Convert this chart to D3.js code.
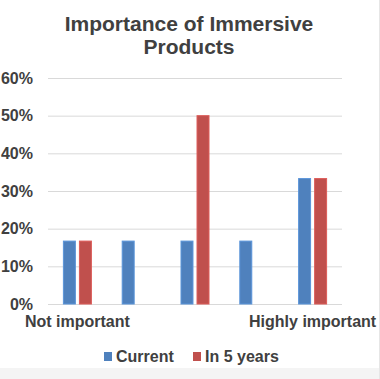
<!DOCTYPE html>
<html>
<head>
<meta charset="utf-8">
<title>Importance of Immersive Products</title>
<style>
	body { margin: 0; background: #fff; }
	svg { display: block; font-family: "Liberation Sans", Arial, sans-serif; }
</style>
</head>
<body>
<div class="chart"></div>
<script src="https://cdn.jsdelivr.net/npm/d3@7"></script>
<script>
	// data
	let categories = ["1", "2", "3", "4", "5"];
	let categoryLabels = ["Not important", "", "", "", "Highly important"];
	let series = ["Current", "In 5 years"];
	let current = [0.167, 0.167, 0.167, 0.167, 0.333];
	let in5years = [0.167, 0, 0.5, 0, 0.333];
	let yTicks = [0, 0.1, 0.2, 0.3, 0.4, 0.5, 0.6];
	let colors = ["#4f81bd", "#c0504d"];

	window.onload = function(){
		drawChart();
	}

	function drawChart(){
		let width = 380, height = 379;
		let plot = {"left": 48, "right": 342, "top": 78, "bottom": 304};

		let svg = d3.select(".chart").append("svg")
			.attr("width", width)
			.attr("height", height);

		// soft frame at the edges of the screenshot
		svg.append("rect")
			.attr("x", 0).attr("y", 368).attr("width", width).attr("height", height - 368)
			.attr("fill", "#f4f4f4");
		svg.append("line")
			.attr("x1", 379.5).attr("x2", 379.5).attr("y1", 0).attr("y2", height)
			.attr("stroke", "#e6e6e6");

		// title
		svg.append("text")
			.attr("x", 189).attr("y", 31)
			.attr("text-anchor", "middle")
			.attr("font-size", 21).attr("font-weight", "bold").attr("fill", "#404040")
			.text("Importance of Immersive");
		svg.append("text")
			.attr("x", 189).attr("y", 54)
			.attr("text-anchor", "middle")
			.attr("font-size", 21).attr("font-weight", "bold").attr("fill", "#404040")
			.text("Products");

		// scales
		let x0 = d3.scaleBand()
			.domain(categories)
			.range([plot.left, plot.right]);
		let x1 = d3.scaleBand()
			.domain(series)
			.range([0, x0.bandwidth()])
			.paddingInner(0.19)
			.paddingOuter(0.93);
		let y = d3.scaleLinear()
			.domain([0, 0.6])
			.range([plot.bottom, plot.top]);

		// y axis with gridlines
		let axisY = d3.axisLeft(y)
			.tickValues(yTicks)
			.tickFormat(d3.format(".0%"))
			.tickSize(-(plot.right - plot.left))
			.tickPadding(15);
		let gy = svg.append("g")
			.attr("transform", "translate(" + plot.left + ",0)")
			.call(axisY);
		gy.select(".domain").remove();
		gy.selectAll(".tick line").attr("stroke", "#d9d9d9");
		gy.selectAll(".tick text")
			.attr("font-size", 16).attr("font-weight", "bold").attr("fill", "#404040")
			.attr("font-family", "Liberation Sans, Arial, sans-serif");

		// bars
		let rows = categories.map((c, i) => ({"cat": c, "values": [current[i], in5years[i]]}));
		let groups = svg.selectAll("g.group")
			.data(rows)
			.enter()
			.append("g")
			.attr("class", "group")
			.attr("transform", d => "translate(" + x0(d.cat) + ",0)");
		groups.selectAll("rect")
			.data(d => d.values.map((v, j) => ({"key": series[j], "value": v, "j": j})))
			.enter()
			.filter(d => d.value > 0)
			.append("rect")
			.attr("x", d => x1(d.key) + 0.5)
			.attr("width", x1.bandwidth() - 1)
			.attr("y", d => y(d.value))
			.attr("height", d => plot.bottom - y(d.value))
			.attr("fill", d => colors[d.j])
			.attr("stroke", d => d3.color(colors[d.j]).brighter(0.4))
			.attr("stroke-width", 1);

		// x axis labels
		let axisX = d3.axisBottom(x0)
			.tickFormat((d, i) => categoryLabels[i])
			.tickSize(0)
			.tickPadding(12);
		let gx = svg.append("g")
			.attr("transform", "translate(0," + plot.bottom + ")")
			.call(axisX);
		gx.select(".domain").remove();
		gx.selectAll(".tick text")
			.attr("font-size", 16).attr("font-weight", "bold").attr("fill", "#404040")
			.attr("font-family", "Liberation Sans, Arial, sans-serif");

		// legend
		let legendX = [104, 193];
		let legend = svg.selectAll("g.legend")
			.data(series)
			.enter()
			.append("g")
			.attr("class", "legend")
			.attr("transform", (d, i) => "translate(" + legendX[i] + ",352)");
		legend.append("rect")
			.attr("width", 8).attr("height", 9)
			.attr("fill", (d, i) => colors[i]);
		legend.append("text")
			.attr("x", 12).attr("y", 10)
			.attr("font-size", 16).attr("font-weight", "bold").attr("fill", "#404040")
			.text(d => d);
	}
</script>
</body>
</html>
